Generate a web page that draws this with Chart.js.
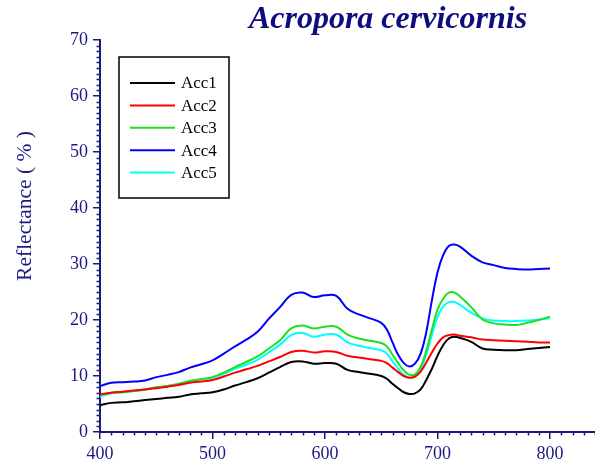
<!DOCTYPE html>
<html>
<head>
<meta charset="utf-8">
<script src="https://cdn.jsdelivr.net/npm/chart.js@4"></script>
<style>
  html, body { margin: 0; padding: 0; background: #fff; }
  canvas { display: block; }
</style>
</head>
<body>
<canvas id="chart" width="595" height="464"></canvas>
<script>
// ============ DATA ============
const wavelengths = [400,410,420,430,440,450,460,470,480,490,500,510,520,530,540,550,560,570,580,590,600,610,620,630,640,650,655,660,665,670,675,680,685,690,695,700,705,710,715,720,730,740,750,760,770,780,790,800];

const acc1 = [4.8,5.2,5.3,5.5,5.7,5.9,6.1,6.3,6.7,6.9,7.1,7.6,8.3,8.9,9.6,10.6,11.6,12.5,12.6,12.2,12.3,12.2,11.1,10.7,10.4,10.0,9.5,8.6,7.8,7.1,6.8,6.9,7.6,9.3,11.3,13.6,15.5,16.7,17.0,16.8,16.1,14.9,14.7,14.6,14.6,14.8,15.0,15.2];
const acc2 = [6.7,7.0,7.2,7.4,7.6,7.8,8.1,8.4,8.8,9.0,9.3,9.9,10.6,11.2,11.8,12.6,13.4,14.3,14.5,14.2,14.4,14.3,13.6,13.3,13.0,12.7,12.3,11.5,10.7,10.0,9.7,9.9,10.8,12.4,14.2,15.8,16.9,17.3,17.4,17.2,16.9,16.5,16.4,16.3,16.2,16.1,16.0,16.0];
const acc3 = [6.6,7.0,7.1,7.3,7.6,8.0,8.2,8.6,9.1,9.4,9.8,10.6,11.6,12.5,13.5,14.9,16.4,18.5,19.0,18.5,18.8,18.8,17.4,16.7,16.3,15.9,15.3,13.8,12.3,11.0,10.2,10.3,11.6,14.5,18.3,21.8,23.8,24.9,24.9,24.2,22.3,20.1,19.4,19.2,19.1,19.5,20.0,20.6];
const acc4 = [8.2,8.8,8.9,9.0,9.2,9.8,10.2,10.7,11.5,12.1,12.8,14.0,15.3,16.5,17.9,20.2,22.3,24.5,24.9,24.1,24.4,24.3,22.0,21.0,20.3,19.5,18.3,16.0,13.8,12.3,11.7,12.2,14.0,17.8,23.5,28.5,31.6,33.2,33.5,33.1,31.5,30.3,29.8,29.3,29.1,29.0,29.1,29.2];
const acc5 = [6.3,6.9,7.1,7.3,7.6,7.9,8.2,8.6,9.1,9.4,9.7,10.4,11.3,12.0,12.9,14.2,15.6,17.3,17.7,17.0,17.4,17.4,16.0,15.4,15.0,14.6,14.0,12.6,11.3,10.2,9.7,9.9,11.1,13.8,17.3,20.5,22.4,23.2,23.2,22.7,21.3,20.3,19.9,19.8,19.8,19.9,20.1,20.3];

const seriesNames = ['Acc1', 'Acc2', 'Acc3', 'Acc4', 'Acc5'];
const seriesData = [acc1, acc2, acc3, acc4, acc5];
const seriesColors = ['#000000', '#ff0000', '#1ee01e', '#0000ff', '#00ffff'];

const xTicks = [400, 500, 600, 700, 800];
const yTicks = [0, 10, 20, 30, 40, 50, 60, 70];

const NAVY = '#1a1a80';
const SERIF = "'Liberation Serif', 'DejaVu Serif', serif";

// ============ PLUGINS ============
// minor ticks on both axes
const minorTicks = {
  id: 'minorTicks',
  afterDraw(chart) {
    const { ctx, scales: { x, y }, chartArea } = chart;
    ctx.save();
    ctx.strokeStyle = NAVY;
    ctx.lineWidth = 1.5;
    ctx.beginPath();
    for (let v = 400; v <= 840; v += 10) {
      if (v % 100 === 0) continue;
      const px = Math.round(x.getPixelForValue(v)) + 0.5;
      ctx.moveTo(px, chartArea.bottom);
      ctx.lineTo(px, chartArea.bottom + 3.5);
    }
    for (let v = 0; v <= 70; v += 1) {
      if (v % 10 === 0) continue;
      const py = Math.round(y.getPixelForValue(v)) + 0.5;
      ctx.moveTo(chartArea.left, py);
      ctx.lineTo(chartArea.left - 3.5, py);
    }
    ctx.stroke();
    ctx.restore();
  }
};

// title, y-axis title and boxed legend
const labelsPlugin = {
  id: 'labels',
  afterDraw(chart) {
    const { ctx } = chart;
    ctx.save();
    ctx.fillStyle = '#0d0d80';
    ctx.font = 'bold italic 32px ' + SERIF;
    ctx.textAlign = 'center';
    ctx.textBaseline = 'alphabetic';
    ctx.fillText('Acropora cervicornis', 388, 28);

    ctx.translate(25, 206);
    ctx.rotate(-Math.PI / 2);
    ctx.fillStyle = NAVY;
    ctx.font = '21.5px ' + SERIF;
    ctx.textBaseline = 'middle';
    ctx.fillText('Reflectance ( % )', 0, 0);
    ctx.restore();

    // legend
    ctx.save();
    ctx.fillStyle = '#fff';
    ctx.fillRect(119, 57, 110, 141);
    ctx.strokeStyle = '#000';
    ctx.lineWidth = 1.5;
    ctx.strokeRect(119, 57, 110, 141);
    ctx.font = '17px ' + SERIF;
    ctx.textAlign = 'left';
    ctx.textBaseline = 'middle';
    chart.data.datasets.forEach((ds, i) => {
      const yy = 83 + i * 22.4;
      ctx.strokeStyle = ds.borderColor;
      ctx.lineWidth = 2;
      ctx.beginPath();
      ctx.moveTo(130, yy);
      ctx.lineTo(175, yy);
      ctx.stroke();
      ctx.fillStyle = '#000';
      ctx.fillText(ds.label, 181, yy + 1);
    });
    ctx.restore();
  }
};

// ============ CHART ============
new Chart(document.getElementById('chart').getContext('2d'), {
  type: 'line',
  data: {
    datasets: seriesNames.map((name, i) => ({
      label: name,
      data: wavelengths.map((w, j) => ({ x: w, y: seriesData[i][j] })),
      borderColor: seriesColors[i],
      borderWidth: 2,
      pointRadius: 0,
      tension: 0.4,
      fill: false,
    }))
  },
  options: {
    responsive: false,
    animation: false,
    events: [],
    layout: { padding: { top: 40, right: 0, left: 0, bottom: 0 } },
    plugins: { legend: { display: false }, tooltip: { enabled: false }, title: { display: false } },
    scales: {
      x: {
        type: 'linear',
        min: 400,
        max: 840,
        afterFit: (s) => { s.height = 32; },
        afterBuildTicks: (s) => { s.ticks = xTicks.map(v => ({ value: v })); },
        border: { color: NAVY, width: 2 },
        grid: { drawOnChartArea: false, tickLength: 7, color: NAVY, lineWidth: 1.5 },
        ticks: { color: NAVY, font: { family: SERIF, size: 18 }, padding: 4, maxRotation: 0 }
      },
      y: {
        min: 0,
        max: 70,
        afterFit: (s) => { s.width = 100; },
        afterBuildTicks: (s) => { s.ticks = yTicks.map(v => ({ value: v })); },
        border: { color: NAVY, width: 2 },
        grid: { drawOnChartArea: false, tickLength: 7, color: NAVY, lineWidth: 1.5 },
        ticks: { color: NAVY, font: { family: SERIF, size: 18 }, padding: 5 }
      }
    }
  },
  plugins: [minorTicks, labelsPlugin]
});
</script>
</body>
</html>
